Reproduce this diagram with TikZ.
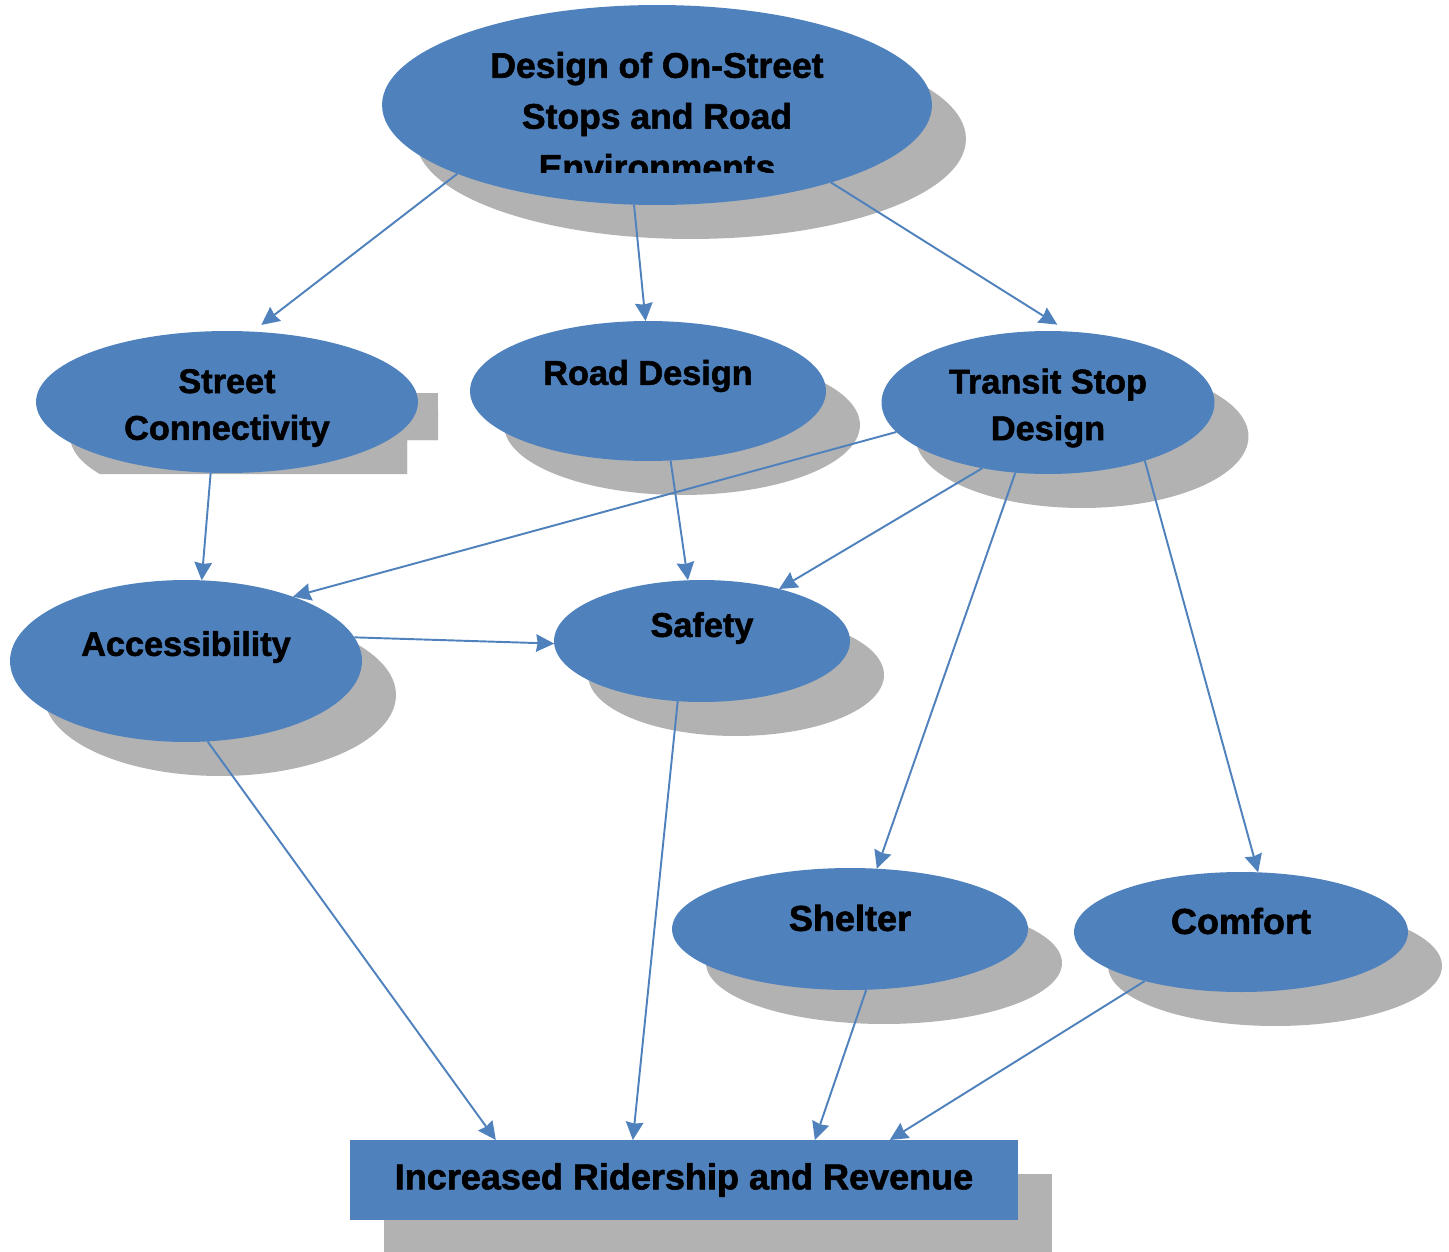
\documentclass[tikz,border=0pt]{standalone}
\usepackage{fontspec}
\setmainfont{Liberation Sans}[BoldFeatures={FakeBold=1.6}]
\usetikzlibrary{shapes.geometric, arrows.meta, shadows}
\definecolor{blue1}{RGB}{79,129,189}
\definecolor{shade1}{RGB}{178,178,178}

\begin{document}
\begin{tikzpicture}[x=0.02cm, y=-0.02cm,
    bubble/.style={ellipse, fill=blue1, inner sep=0pt, outer sep=0pt},
    shadowed/.style={drop shadow={shadow xshift=0.68cm, shadow yshift=-0.68cm, fill=shade1, opacity=1}},
    lbl/.style={font=\fontsize{19.5}{26.6}\selectfont\bfseries, align=center, inner sep=0pt},
    resultbox/.style={draw=none, fill=blue1, shape=rectangle, inner sep=0pt, outer sep=0pt, minimum width=13.36cm, minimum height=1.6cm, font=\fontsize{20.5}{24}\selectfont\bfseries},
    linkarrow/.style={-{Stealth[length=3.6mm, width=3.5mm, inset=0.3mm]}, line width=1.1pt, draw=blue1}
]
        \useasboundingbox (0,0) rectangle (1449,1251);

        \node[bubble, shadowed, minimum width=11cm, minimum height=4cm, name=top] at(657,105) {};
        \begin{scope}
            \clip (382,0) rectangle (932,172);
            \node[lbl, font=\fontsize{20.2}{29}\selectfont\bfseries, name=toplbl] at(657,116) {Design of On-Street\\Stops and Road\\Environments};
        \end{scope}

        % odd cut shadow of the street node
        \begin{scope}
            \clip (0,393) -- (438,393) -- (438,440) -- (407,440) -- (407,474) -- (0,474) -- cycle;
            \fill[shade1] (261,436) ellipse [x radius=3.82cm, y radius=1.42cm];
            \fill[shade1] (300,393) rectangle (438,474);
        \end{scope}
        \node[bubble, minimum width=7.64cm, minimum height=2.84cm, name=street] at(227,402) {};
        \node[lbl, name=streetlbl] at(227,408) {Street\\Connectivity};

        \node[bubble, shadowed, minimum width=7.12cm, minimum height=2.8cm, name=road] at(648,391) {};
        \node[lbl, name=roadlbl] at(648,376) {Road Design};

        \node[bubble, shadowed, minimum width=6.66cm, minimum height=2.86cm, name=transit] at(1048,402.5) {};
        \node[lbl, name=transitlbl] at(1048,408) {Transit Stop\\Design};

        \node[bubble, shadowed, minimum width=7.04cm, minimum height=3.24cm, name=access] at(186,661) {};
        \node[lbl, name=accesslbl] at(186,647) {Accessibility};

        \node[bubble, shadowed, minimum width=5.92cm, minimum height=2.44cm, name=safety] at(702,641) {};
        \node[lbl, name=safetylbl] at(702,628) {Safety};

        \node[bubble, shadowed, minimum width=7.12cm, minimum height=2.44cm, name=shelter] at(850,929) {};
        \node[lbl, font=\fontsize{20.5}{24}\selectfont\bfseries, name=shelterlbl] at(850,918) {Shelter};

        \node[bubble, shadowed, minimum width=6.68cm, minimum height=2.4cm, name=comfort] at(1241,932) {};
        \node[lbl, font=\fontsize{20.5}{24}\selectfont\bfseries, name=comfortlbl] at(1241,921) {Comfort};

        \node[resultbox, shadowed, name=result] at(684,1180) {Increased Ridership and Revenue};

        \draw[linkarrow, shorten >=0.22cm] (top.199) -- (street.70);
        \draw[linkarrow] (top.257) -- (road.92);
        \draw[linkarrow, shorten >=0.26cm] (top.336) -- (transit.74);

        \draw[linkarrow] (street.257) -- (access.79);
        \draw[linkarrow] (road.288) -- (safety.103);
        \draw[linkarrow] (transit.191) -- (access.31);
        \draw[linkarrow] (transit.225) -- (safety.34);
        \draw[linkarrow] (transit.245) -- (shelter.66);
        \draw[linkarrow] (transit.329) -- (comfort.74);
        \draw[linkarrow] (access.8) -- (safety.181);

        \draw[linkarrow] (access.285) -- (result.168);
        \draw[linkarrow] (safety.248) -- (result.142);
        \draw[linkarrow] (shelter.285) -- (result.17);
        \draw[linkarrow] (comfort.207) -- (result.11);
\end{tikzpicture}
\end{document}
